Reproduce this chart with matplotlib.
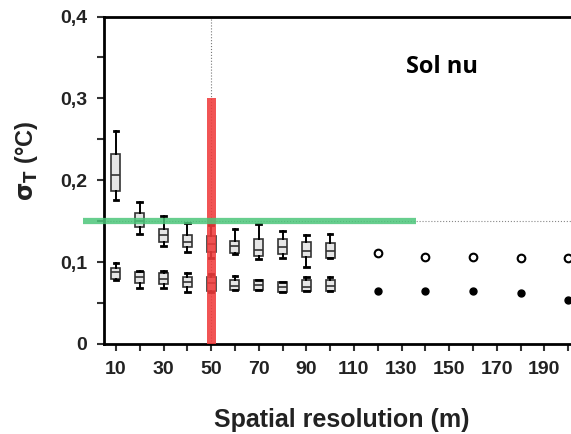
import matplotlib.pyplot as plt
from matplotlib.ticker import MultipleLocator, FixedLocator

# box plot series (resolution 10..100 m)
res = [10, 20, 30, 40, 50, 60, 70, 80, 90, 100]
up_whislo = [0.176, 0.134, 0.120, 0.112, 0.105, 0.110, 0.104, 0.105, 0.094, 0.105]
up_q1 = [0.187, 0.143, 0.124, 0.118, 0.112, 0.111, 0.108, 0.110, 0.106, 0.105]
up_med = [0.207, 0.150, 0.133, 0.125, 0.122, 0.120, 0.115, 0.118, 0.113, 0.114]
up_q3 = [0.232, 0.160, 0.141, 0.133, 0.132, 0.126, 0.128, 0.128, 0.125, 0.123]
up_whishi = [0.260, 0.173, 0.156, 0.148, 0.145, 0.140, 0.146, 0.138, 0.133, 0.134]

lo_whislo = [0.078, 0.068, 0.068, 0.064, 0.063, 0.066, 0.066, 0.064, 0.065, 0.065]
lo_q1 = [0.080, 0.075, 0.073, 0.070, 0.065, 0.066, 0.066, 0.064, 0.065, 0.065]
lo_med = [0.088, 0.082, 0.080, 0.076, 0.075, 0.071, 0.072, 0.070, 0.070, 0.071]
lo_q3 = [0.093, 0.088, 0.087, 0.082, 0.082, 0.078, 0.078, 0.076, 0.078, 0.078]
lo_whishi = [0.099, 0.089, 0.089, 0.087, 0.085, 0.083, 0.078, 0.076, 0.082, 0.082]

# single points beyond 100 m
res_pts = [120, 140, 160, 180, 200]
open_pts = [0.111, 0.106, 0.106, 0.105, 0.105]
filled_pts = [0.065, 0.065, 0.065, 0.062, 0.054]

xticks = list(range(10, 200, 20))
yticks = [0, 0.1, 0.2, 0.3, 0.4]
ylabels = ['0', '0,1', '0,2', '0,3', '0,4']

plt.rcParams['font.family'] = ['Liberation Sans', 'DejaVu Sans']

W, H = 571, 434
fig = plt.figure(figsize=(W / 100, H / 100), dpi=100)
ax = fig.add_axes([104 / W, 90 / H, 476 / W, 327.5 / H])
ax.set_xlim(5, 205)
ax.set_ylim(0, 0.4)


def stats(lo, q1, med, q3, hi):
    return [dict(whislo=a, q1=b, med=c, q3=d, whishi=e, fliers=[])
            for a, b, c, d, e in zip(lo, q1, med, q3, hi)]


box_kw = dict(positions=res, widths=3.8, patch_artist=True, showfliers=False,
              boxprops=dict(facecolor='#e6e6e6', edgecolor='#333333', lw=1.2),
              medianprops=dict(color='#333333', lw=1.2),
              whiskerprops=dict(color='black', lw=1.4),
              capprops=dict(color='black', lw=2),
              manage_ticks=False)
ax.bxp(stats(up_whislo, up_q1, up_med, up_q3, up_whishi), **box_kw)
ax.bxp(stats(lo_whislo, lo_q1, lo_med, lo_q3, lo_whishi), **box_kw)

ax.plot(res_pts, open_pts, 'o', ms=5.5, mfc='white', mec='black', mew=1.5,
        clip_on=False)
ax.plot(res_pts, filled_pts, 'o', ms=5, color='black', clip_on=False)

# threshold markers
ax.axvline(50, color='#777777', lw=0.8, ls=':', zorder=1)
ax.bar([50], [0.3], width=3.8, color='#f03c3c', alpha=0.88, zorder=5)
ax.axhline(0.15, color='#888888', lw=0.8, ls=':', zorder=1)
ax.plot([-4, 136], [0.15, 0.15], color='#4cc67a', lw=4.5, alpha=0.85,
        solid_capstyle='butt', zorder=5, clip_on=False)

ax.text(147, 0.338, 'Sol nu', fontsize=17, fontweight='bold',
        family='Open Sans', ha='center', va='center')

ax.set_xticks(xticks)
ax.xaxis.set_minor_locator(FixedLocator(range(20, 201, 20)))
ax.set_yticks(yticks)
ax.set_yticklabels(ylabels)
ax.yaxis.set_minor_locator(MultipleLocator(0.05))
ax.tick_params(which='both', direction='out', width=1.5, length=5,
               labelsize=14, color='#333333', pad=7)
for lab in ax.get_xticklabels() + ax.get_yticklabels():
    lab.set_fontweight('bold')
    lab.set_color('#222222')

for side in ['left', 'bottom', 'top']:
    ax.spines[side].set_linewidth(2)
ax.spines['right'].set_visible(False)

ax.set_xlabel('Spatial resolution (m)', fontsize=18, fontweight='bold',
              labelpad=22, color='#222222')
ax.set_ylabel(r'$\mathbf{\sigma_T}$ (°C)', fontsize=17, fontweight='bold',
              color='#222222')
ax.yaxis.set_label_coords(-0.135, 0.56)

fig.savefig('out.png', dpi=100)
